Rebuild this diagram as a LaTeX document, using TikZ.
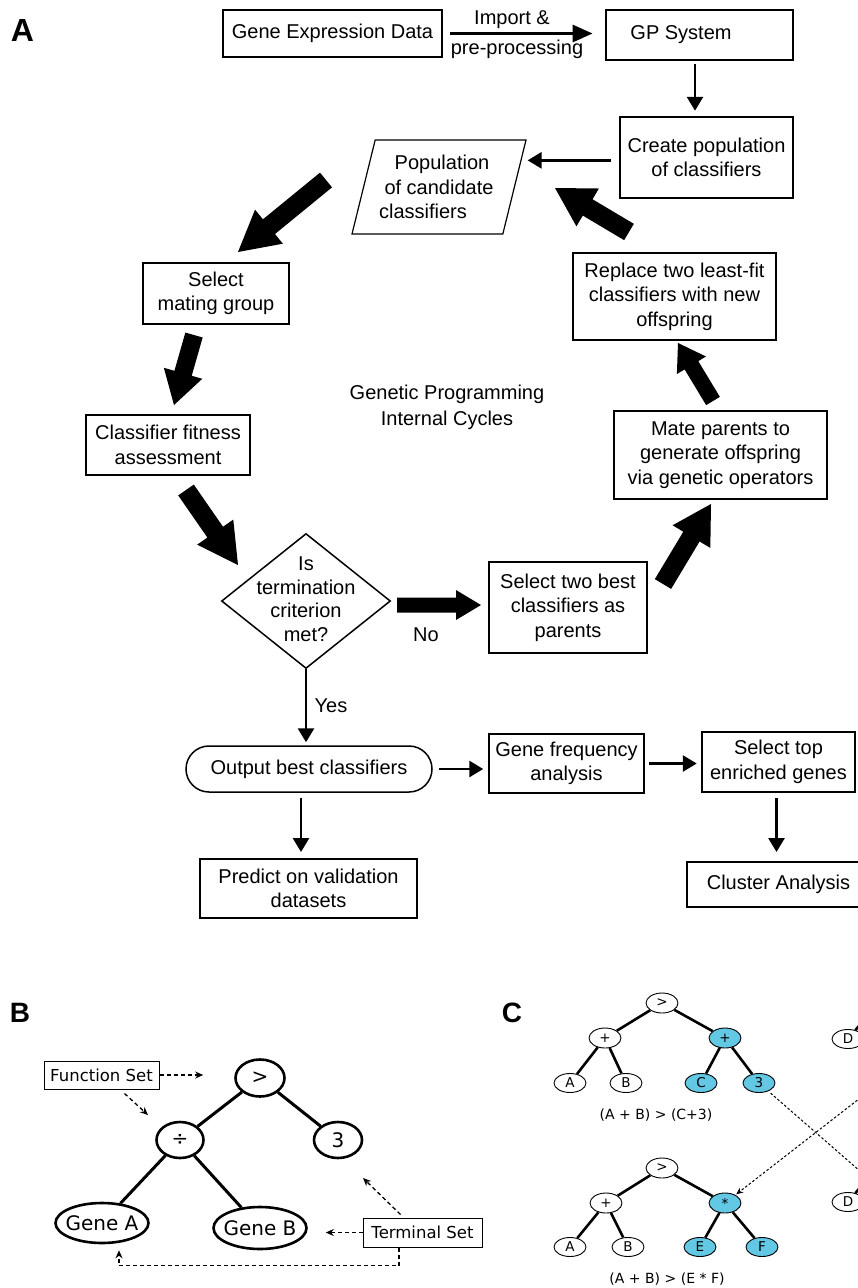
\documentclass[tikz,border=0pt]{standalone}
\usepackage{fontspec}
\setmainfont{Liberation Sans}
\newfontfamily\dv{DejaVu Sans}
\usetikzlibrary{arrows.meta,shapes.geometric,calc}
\definecolor{cyanfill}{RGB}{98,200,228}
\newcommand{\myblockarrow}[5]{%
  \coordinate (bah) at ($(#2)!#5!(#1)$);
  \fill ($(#1)!#3!90:(#2)$) -- ($(bah)!#3!90:(#2)$) -- ($(bah)!#4!90:(#2)$) -- (#2)
     -- ($(bah)!#4!-90:(#2)$) -- ($(bah)!#3!-90:(#2)$) -- ($(#1)!#3!-90:(#2)$) -- cycle;}
\tikzset{
  fa/.style={font=\fontsize{20}{24.5}\selectfont},
  abox/.style={draw, rectangle, inner sep=0pt, align=center, fa, line width=2pt},
  arr/.style={line width=2.8pt, -{Triangle[length=14pt,width=16pt]}},
  bnode/.style={ellipse, draw, line width=2.6pt, inner sep=0pt, font=\dv\fontsize{20}{22}\selectfont},
  bset/.style={draw, rectangle, line width=1pt, inner sep=0pt, font=\dv\fontsize{16.5}{18}\selectfont},
  dasharr/.style={dash pattern=on 4pt off 3pt, line width=1.3pt, -{Stealth[length=8pt,width=7pt]}},
  cnode/.style={ellipse, draw, line width=0.9pt, inner sep=0pt, minimum width=32pt, minimum height=20pt, font=\dv\fontsize{13.5}{14}\selectfont},
  cedge/.style={line width=2.6pt},
  cdash/.style={dash pattern=on 2.5pt off 2pt, line width=1pt},
}
\begin{document}
\begin{tikzpicture}[x=1pt,y=-1pt]
\useasboundingbox (0,0) rectangle (858,1288);
\fill[white] (0,0) rectangle (858,1288);
\clip (0,0) rectangle (858,1288);

% panel labels
\node[font=\bfseries\fontsize{32}{32}\selectfont, inner sep=0pt] (labA) at (22.5,30.5) {A};
\node[font=\bfseries\fontsize{28}{28}\selectfont, inner sep=0pt] (labB) at (20,1013) {B};
\node[font=\bfseries\fontsize{28}{28}\selectfont, inner sep=0pt] (labC) at (512,1012.5) {C};

% ---------- Panel A ----------
\node[abox, line width=1.5pt, minimum width=219pt, minimum height=47pt] (ged) at (332.5,33.5) {Gene Expression Data};
\node[abox, line width=2.8pt, minimum width=187pt, minimum height=50pt] (gp) at (699.5,35) {GP System\kern37pt};
\node[abox, line width=2.5pt, minimum width=173pt, minimum height=81pt] (create) at (706.5,157.5) {Create population\\of classifiers};
\node[draw, trapezium, trapezium left angle=70, trapezium right angle=110, trapezium stretches body,
      minimum width=174pt, minimum height=94pt, line width=1.2pt, inner sep=0pt, align=center, fa] (pop) at (439,187)
      {\kern6pt Population\\of candidate\\\kern-32pt classifiers};
\node[abox, minimum width=146pt, minimum height=61pt] (sel) at (216,293.5) {Select\\mating group};
\node[abox, minimum width=164pt, minimum height=60pt] (cfa) at (168,445) {Classifier fitness\\assessment};
\node[abox, line width=2.5pt, minimum width=203pt, minimum height=87pt] (rep) at (674.5,296.5) {Replace two least-fit\\classifiers with new\\offspring};
\node[abox, line width=2.5pt, minimum width=213pt, minimum height=88pt] (mate) at (720.5,455) {Mate parents to\\generate offspring\\via genetic operators};
\node[diamond, draw, line width=1.5pt, minimum width=169pt, minimum height=135pt, inner sep=0pt] (dia) at (306,601) {};
\node[align=center, font=\fontsize{20}{23.5}\selectfont] (diatxt) at (306,599) {Is\\termination\\criterion\\met?};
\node[abox, minimum width=158pt, minimum height=91pt] (s2) at (568,607.5) {Select two best\\classifiers as\\parents};
\node[abox, rounded corners=23pt, line width=1.5pt, minimum width=246pt, minimum height=46pt] (out) at (309,769) {Output best classifiers};
\node[abox, line width=1.5pt, minimum width=155pt, minimum height=59pt] (gfa) at (566.5,763.5) {Gene frequency\\analysis};
\node[abox, line width=2.5pt, minimum width=153pt, minimum height=60pt] (stg) at (778.5,762) {Select top\\enriched genes};
\node[abox, minimum width=217pt, minimum height=59pt] (pred) at (308.5,888.5) {Predict on validation\\datasets};
\node[abox, minimum width=183pt, minimum height=45pt] (clu) at (778.5,884.5) {Cluster Analysis};

\node[fa] (imp) at (512,20) {Import \&};
\node[fa] (pre) at (517,49) {pre-processing};
\node[align=center, font=\fontsize{20}{26}\selectfont] (gplab) at (447,407) {Genetic Programming\\Internal Cycles};
\node[fa] (nolab) at (426,635) {No};
\node[fa] (yeslab) at (331,706) {Yes};

% small arrows
\draw[line width=3pt, -{Triangle[length=20pt,width=17pt]}, shorten <=7pt, shorten >=12pt] (ged.east) -- (ged.east -| gp.west);
\draw[arr, shorten <=3pt, shorten >=5pt] ([xshift=-4.5pt]gp.south) -- ([xshift=-4.5pt]gp.south |- create.north);
\coordinate (popin) at ($(pop.top right corner)!0.22!(pop.bottom right corner)$);
\draw[arr, shorten <=8pt, shorten >=6pt] (create.west |- popin) -- (popin);
\draw[arr, shorten >=3pt] (dia.south) -- (dia.south |- out.north);
\draw[arr, shorten <=6pt, shorten >=5pt] (out.east) -- (out.east -| gfa.west);
\draw[arr, shorten <=4pt, shorten >=4pt] (gfa.east) -- (gfa.east -| stg.west);
\draw[arr, shorten <=5pt, shorten >=6pt] ([xshift=-8pt]out.south) -- ([xshift=-8pt]out.south |- pred.north);
\draw[arr, shorten <=5pt, shorten >=9pt] ([xshift=-2pt]stg.south) -- ([xshift=-2pt]stg.south |- clu.north);

% block arrows of the cycle
\coordinate (a1s) at (326,180); \coordinate (a1e) at (238,252);
\coordinate (a2s) at (194,335); \coordinate (a2e) at (174,405);
\coordinate (a3s) at (186,490); \coordinate (a3e) at (238,565);
\coordinate (a4s) at (397,605); \coordinate (a4e) at (481,605);
\coordinate (a5s) at (663,584); \coordinate (a5e) at (711,504);
\coordinate (a6s) at (713,401); \coordinate (a6e) at (678,343);
\coordinate (a7s) at (629,232); \coordinate (a7e) at (555,188);
\myblockarrow{a1s}{a1e}{9.5pt}{22pt}{40pt}
\myblockarrow{a2s}{a2e}{9pt}{20pt}{33pt}
\myblockarrow{a3s}{a3e}{9.5pt}{22pt}{40pt}
\myblockarrow{a4s}{a4e}{7.5pt}{15pt}{25pt}
\myblockarrow{a5s}{a5e}{9.5pt}{22pt}{38pt}
\myblockarrow{a6s}{a6e}{8pt}{17pt}{26pt}
\myblockarrow{a7s}{a7e}{9.5pt}{22pt}{38pt}

% ---------- Panel B ----------
\node[bnode, minimum width=49pt, minimum height=37pt] (bgt) at (260,1078) {>};
\node[bnode, minimum width=47pt, minimum height=36pt] (bdiv) at (180,1140) {÷};
\node[bnode, minimum width=48pt, minimum height=36pt] (b3) at (338,1140) {3};
\node[bnode, inner xsep=-6pt, minimum width=93pt, minimum height=40pt] (bga) at (102,1223) {Gene A};
\node[bnode, inner xsep=-6pt, minimum width=93pt, minimum height=42pt] (bgb) at (260,1228) {Gene B};
\draw[line width=3pt] (bgt) -- (bdiv);
\draw[line width=3pt] (bgt) -- (b3);
\draw[line width=3pt] (bdiv) -- (bga);
\draw[line width=3pt] (bdiv) -- (bgb);
\node[bset, minimum width=115pt, minimum height=28pt] (fs) at (101.5,1075) {Function Set};
\node[bset, minimum width=119pt, minimum height=29pt] (ts) at (422.5,1232.5) {Terminal Set};
\draw[dasharr, shorten >=31pt] (fs.east) -- (fs.east -| bgt.west);
\draw[dasharr] ([xshift=23pt,yshift=-4pt]fs.south) -- ([xshift=-32pt,yshift=25pt]bdiv.center);
\draw[dasharr, shorten >=18pt] (ts.west) -- (ts.west -| bgb.east);
\draw[dasharr] ([xshift=-22pt,yshift=3pt]ts.north) -- ([xshift=25pt,yshift=-38pt]b3.center);
\draw[dasharr, shorten >=6pt] ([xshift=-23.5pt]ts.south) -- ++(0,18) -| ([xshift=17pt]bga.south);

% ---------- Panel C ----------
\node[cnode] (t1r) at (662,1003) {>};
\node[cnode] (t1p) at (605,1038) {+};
\node[cnode, fill=cyanfill] (t1q) at (725,1038) {+};
\node[cnode, minimum height=19pt] (t1a) at (570,1083) {A};
\node[cnode, minimum height=19pt] (t1b) at (626,1083) {B};
\node[cnode, minimum height=19pt, fill=cyanfill] (t1c) at (701,1083) {C};
\node[cnode, minimum height=19pt, fill=cyanfill] (t13) at (759,1083) {3};
\draw[cedge] (t1r) -- (t1p);
\draw[cedge] (t1r) -- (t1q);
\draw[cedge] (t1p) -- (t1a);
\draw[cedge] (t1p) -- (t1b);
\draw[cedge] (t1q) -- (t1c);
\draw[cedge] (t1q) -- (t13);
\node[font=\dv\fontsize{14}{16}\selectfont] (cap1) at (656,1115) {(A + B) > (C+3)};

\node[cnode] (t2r) at (662,1168) {>};
\node[cnode] (t2p) at (606,1203) {+};
\node[cnode, fill=cyanfill] (t2s) at (725,1203) {*};
\node[cnode, minimum height=19pt] (t2a) at (570,1247) {A};
\node[cnode, minimum height=19pt] (t2b) at (628,1247) {B};
\node[cnode, minimum height=19pt, fill=cyanfill] (t2e) at (700,1247) {E};
\node[cnode, minimum height=19pt, fill=cyanfill] (t2f) at (762,1247) {F};
\draw[cedge] (t2r) -- (t2p);
\draw[cedge] (t2r) -- (t2s);
\draw[cedge] (t2p) -- (t2a);
\draw[cedge] (t2p) -- (t2b);
\draw[cedge] (t2s) -- (t2e);
\draw[cedge] (t2s) -- (t2f);
\node[font=\dv\fontsize{14}{16}\selectfont] (cap2) at (667,1279) {(A + B) > (E * F)};

\node[cnode, minimum height=19pt] (d1) at (848,1039) {D};
\node[cnode, minimum height=19pt] (d2) at (848,1202) {D};
\coordinate (d1p) at (878,1003);
\coordinate (d2p) at (878,1166);
\draw[cedge] (d1) -- (d1p);
\draw[cedge] (d2) -- (d2p);
\coordinate (offA) at (900,1206);
\coordinate (offB) at (900,1067);
\draw[cdash, shorten <=3pt] (t13) -- (offA);
\draw[cdash, -{Stealth[length=7pt,width=6pt]}, shorten >=1pt] (offB) -- (t2s);
\end{tikzpicture}
\end{document}
